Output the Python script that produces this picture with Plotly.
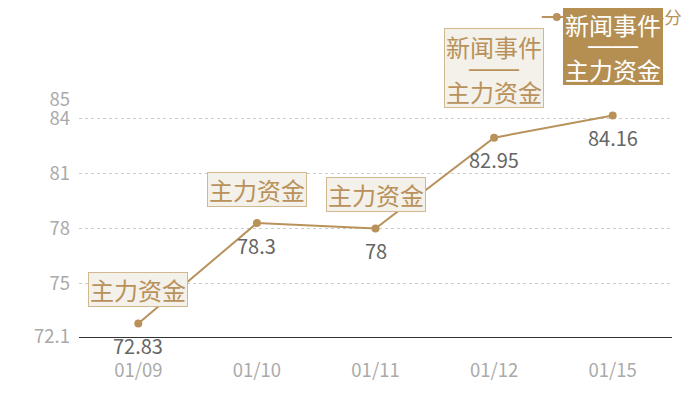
import plotly.graph_objects as go

dates = ['01/09', '01/10', '01/11', '01/12', '01/15']
score = [72.83, 78.3, 78, 82.95, 84.16]
tags = [['主力资金'], ['主力资金'], ['主力资金'],
        ['新闻事件', '——', '主力资金'], ['新闻事件', '——', '主力资金']]
y_ticks = [72.1, 75, 78, 81, 84, 85]

gold = '#b8925a'
font_cn = 'Noto Sans CJK SC'

fig = go.Figure()
fig.add_trace(go.Scatter(
    x=dates, y=score, name='综合情绪评分',
    mode='lines+markers',
    line=dict(color=gold, width=2),
    marker=dict(color=gold, size=8),
    cliponaxis=False,
))

# value labels under the points
for d, v in zip(dates, score):
    fig.add_annotation(x=d, y=v, text=str(v), showarrow=False, yshift=-22,
                       font=dict(size=20, color='#666666', family=font_cn))

# event tags above each point, last one highlighted
for i, (d, v, t) in enumerate(zip(dates, score, tags)):
    last = i == len(dates) - 1
    multi = len(t) > 1
    fig.add_annotation(
        x=d, y=v, text=' ', showarrow=False,
        yshift=70 if multi else 34,
        bgcolor='#b58f52' if last else '#f4f0ea',
        bordercolor='#b58f52' if last else '#d2b88e',
        borderwidth=1, borderpad=1,
        width=96, height=76 if multi else 31,
    )
    shifts = [91, 70, 46] if multi else [34]
    for line, s in zip(t, shifts):
        dash = line == '——'
        fig.add_annotation(
            x=d, y=v, text=line, showarrow=False, yshift=s,
            font=dict(size=25 if dash else 24,
                      color='white' if last else gold,
                      family='Liberation Sans' if dash else font_cn),
        )

fig.update_layout(
    width=700, height=400,
    margin=dict(l=71, r=36, t=92, b=71, autoexpand=False),
    plot_bgcolor='white', paper_bgcolor='white',
    font=dict(family=font_cn),
    showlegend=True,
    legend=dict(x=0.772, y=1.426, xanchor='left', yanchor='top',
                font=dict(size=17.5, color=gold), bgcolor='rgba(0,0,0,0)'),
)
fig.update_xaxes(
    type='category', range=[-0.5, 4.5],
    showgrid=False, showline=True, linecolor='#333333', linewidth=1,
    ticks='', ticklabelstandoff=17,
    tickfont=dict(size=18.5, color='#aaaaaa'),
)
fig.update_yaxes(
    range=[72.1, 85], tickvals=y_ticks, ticktext=[str(v) for v in y_ticks],
    showgrid=True, gridcolor='#cccccc', griddash='dot', gridwidth=1,
    zeroline=False, showline=False, ticks='', ticklabelstandoff=8,
    tickfont=dict(size=18.5, color='#aaaaaa'),
)

fig.write_html('out.html')
